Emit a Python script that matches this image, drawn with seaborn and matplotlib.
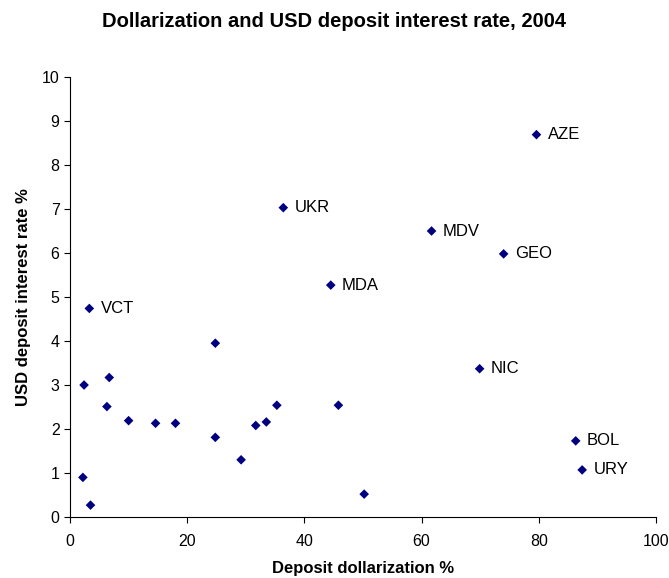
import pandas as pd
import matplotlib
matplotlib.use("Agg")
from matplotlib import pyplot as plt
import seaborn as sns

# deposit dollarization % and USD deposit rate %, one entry per country
dollarization = [2.4, 6.7, 6.3, 10.0, 14.6, 18.0, 24.8, 24.8, 29.2, 31.7, 33.5, 35.3,
                 45.8, 50.2, 2.2, 3.5, 3.3, 79.6, 36.4, 61.7, 74.0, 44.5, 69.9, 86.3, 87.4]
usd_rate = [3.0, 3.17, 2.51, 2.19, 2.13, 2.13, 1.81, 3.95, 1.30, 2.08, 2.16, 2.54,
            2.54, 0.52, 0.90, 0.27, 4.74, 8.69, 7.03, 6.50, 5.98, 5.27, 3.37, 1.73, 1.07]
labels = ["", "", "", "", "", "", "", "", "", "", "", "",
          "", "", "", "", "VCT", "AZE", "UKR", "MDV", "GEO", "MDA", "NIC", "BOL", "URY"]

df = pd.DataFrame({"Deposit dollarization %": dollarization,
                   "USD deposit interest rate %": usd_rate,
                   "country": labels})

sns.set_style("white")
plt.rcParams["font.family"] = ["Liberation Sans", "DejaVu Sans"]
plt.rcParams["text.color"] = "black"
plt.rcParams["axes.labelcolor"] = "black"
plt.rcParams["xtick.color"] = "black"
plt.rcParams["ytick.color"] = "black"

fig = plt.figure(figsize=(6.69, 5.78), dpi=100)
ax = fig.add_axes([70 / 669, 1 - 517 / 578, (656 - 70) / 669, (517 - 77) / 578])

sns.scatterplot(data=df, x="Deposit dollarization %", y="USD deposit interest rate %",
                marker="D", color="#000080", s=24, edgecolor="none", ax=ax)

for i, row in df.iterrows():
    if row["country"]:
        ax.annotate(row["country"], (row["Deposit dollarization %"], row["USD deposit interest rate %"]),
                    xytext=(8, 0), textcoords="offset points", va="center", fontsize=12)

ax.set_xlim(0, 100)
ax.set_ylim(0, 10)
ax.set_xticks(range(0, 101, 20))
ax.set_yticks(range(0, 11))
ax.tick_params(axis="both", direction="out", length=4, width=0.8,
               labelsize=11.5, bottom=True, left=True)
ax.tick_params(axis="x", pad=8)
for side in ["top", "right"]:
    ax.spines[side].set_visible(False)
for side in ["left", "bottom"]:
    ax.spines[side].set_color("black")
    ax.spines[side].set_linewidth(0.8)

ax.set_xlabel("Deposit dollarization %", fontsize=12, fontweight="bold", labelpad=9)
ax.set_ylabel("USD deposit interest rate %", fontsize=12, fontweight="bold", labelpad=8)
fig.suptitle("Dollarization and USD deposit interest rate, 2004", fontsize=14.5, fontweight="bold", y=0.98)

fig.savefig("out.png", dpi=100)
